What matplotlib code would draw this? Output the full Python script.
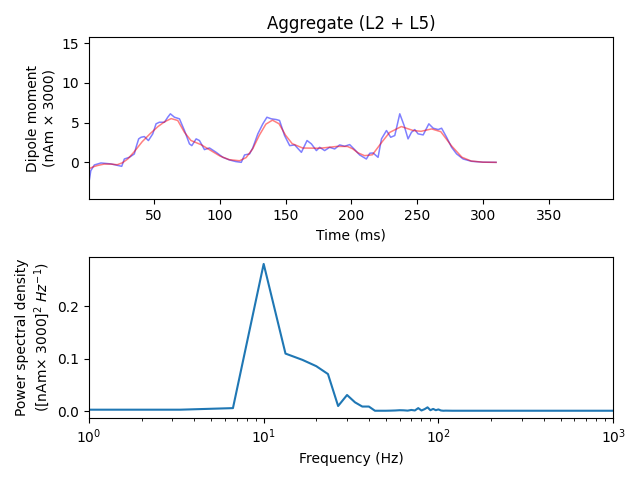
import matplotlib
matplotlib.use('Agg')
import matplotlib.pyplot as plt

# raw aggregate dipole (ms, nAm x 3000)
t_raw = [0.5, 1.9, 4.6, 9.6, 17.3, 25.4, 27.4, 31.2, 35, 36.3, 38.3, 40.1, 42.6,
         45.7, 49, 51.5, 54, 57.9, 60.4, 62.4, 65.5, 69.3, 73.1, 76.9, 78.7, 82,
         84.5, 88.3, 92.1, 97.2, 102.3, 107.4, 112, 116.3, 118.8, 122.6, 125,
         128.9, 132.7, 135.8, 139.1, 142.9, 145.4, 149.2, 153.1, 156.9, 162,
         166.3, 169.6, 173.4, 175.9, 179.7, 183.5, 187.3, 191.1, 194.9, 198.7,
         202.5, 206.3, 211.4, 214, 216.5, 220.3, 222.9, 226.7, 229.9, 233, 236.8,
         240.1, 243.1, 245.7, 248.2, 250.7, 254.6, 258.9, 262.2, 266, 268.6,
         272.4, 276.2, 280, 285, 291.4, 300, 310]
v_raw = [-2.5, -1.05, -0.33, -0.08, -0.2, -0.5, 0.42, 0.63, 1.06, 1.89, 2.95, 3.15,
         3.24, 2.74, 3.58, 4.84, 5.04, 5.04, 5.67, 6.1, 5.67, 5.47, 4.0, 2.32, 2.1,
         2.95, 2.74, 1.6, 1.81, 1.26, 0.63, 0.3, 0.1, 0.0, 0.93, 1.06, 1.8, 3.58,
         4.84, 5.67, 5.47, 5.38, 5.26, 3.37, 2.1, 2.19, 1.26, 2.74, 2.32, 1.48,
         1.89, 1.48, 1.89, 1.68, 2.19, 2.02, 2.23, 1.6, 0.93, 0.42, 1.14, 1.18,
         0.63, 2.95, 4.0, 3.15, 3.37, 6.1, 4.63, 2.95, 3.78, 4.12, 3.58, 3.45,
         4.84, 4.29, 4.12, 4.29, 3.15, 1.89, 1.06, 0.42, 0.13, 0.02, 0.0]

# smoothed dipole
t_smooth = [0.5, 4, 7, 12, 17, 22, 26, 30, 35, 41, 47, 53, 58, 63, 68, 73, 78, 86,
            93, 100, 107, 115, 120, 125, 130, 135, 140, 145, 150, 155, 163, 176,
            189, 197, 201, 205, 210, 216, 223, 229, 238, 247, 253, 261, 268, 276,
            284, 291, 300, 310]
v_smooth = [-0.8, -0.55, -0.4, -0.22, -0.22, -0.3, -0.05, 0.42, 1.35, 2.6, 3.6,
            4.5, 5.1, 5.5, 5.26, 3.8, 2.75, 2.2, 1.5, 0.8, 0.34, 0.2, 0.6, 1.7,
            3.4, 4.8, 5.3, 4.85, 3.4, 2.35, 1.8, 1.77, 2.0, 2.0, 1.7, 1.2, 0.84,
            0.95, 2.5, 3.75, 4.5, 4.0, 3.9, 4.2, 3.85, 2.1, 0.65, 0.17, 0.02, 0.0]

# power spectral density
freqs = [0, 3.33, 6.67, 10, 13.33, 16.67, 20, 23.33, 26.67, 30, 33.33, 36.67, 40,
         43.33, 46.67, 50, 53.33, 56.67, 60, 63.33, 66.67, 70, 73.33, 76.67, 80,
         83.33, 86.67, 90, 93.33, 96.67, 100, 103.33, 106.67, 110, 120, 150, 200,
         500, 1000]
psd = [0.002, 0.003, 0.006, 0.281, 0.110, 0.098, 0.086, 0.071, 0.010, 0.031,
       0.017, 0.009, 0.009, 0.001, 0.001, 0.001, 0.0012, 0.0015, 0.002, 0.0018,
       0.0012, 0.0025, 0.0015, 0.006, 0.0015, 0.004, 0.0075, 0.002, 0.0045,
       0.002, 0.0035, 0.0015, 0.001, 0.0012, 0.001, 0.001, 0.001, 0.001, 0.001]

fig, axes = plt.subplots(2, 1, figsize=(6.4, 4.8))
fig.subplots_adjust(left=0.139, right=0.958, top=0.922, bottom=0.129, hspace=0.357)

ax = axes[0]
ax.plot(t_raw, v_raw, color='b', alpha=0.5, lw=1.1)
ax.plot(t_smooth, v_smooth, color='r', alpha=0.5, lw=1.1)
ax.set_xlim(0.5, 399)
ax.set_ylim(-4.6, 15.7)
ax.set_xlabel('Time (ms)')
ax.set_ylabel('Dipole moment\n(nAm × 3000)')
ax.set_title('Aggregate (L2 + L5)')

ax = axes[1]
ax.plot(freqs, psd)
ax.set_xscale('log')
ax.set_xlim(1, 1000)
ax.set_xlabel('Frequency (Hz)')
ax.set_ylabel('Power spectral density\n([nAm$\\times$ 3000]$^2$ $Hz^{-1}$)')

fig.savefig('out.png', dpi=100)
